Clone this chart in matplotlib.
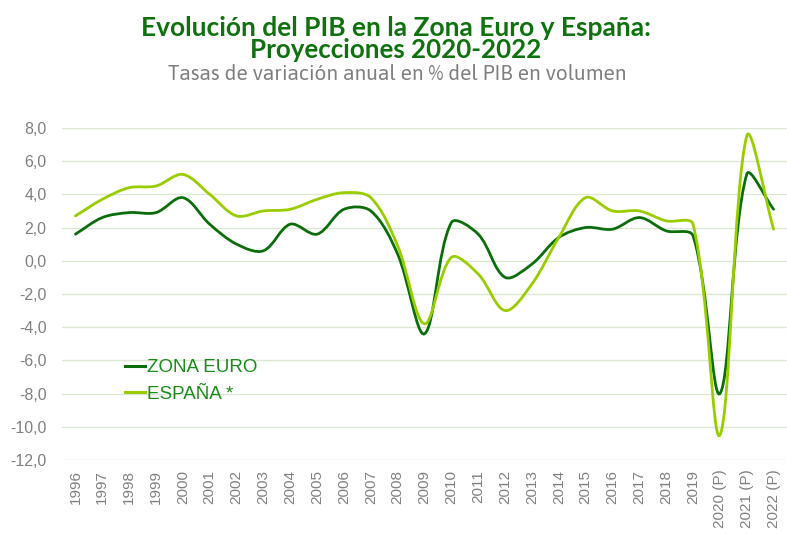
import numpy as np
import matplotlib.pyplot as plt
from matplotlib.path import Path
from matplotlib.patches import PathPatch
from matplotlib.lines import Line2D

years = [str(y) for y in range(1996, 2020)] + ['2020 (P)', '2021 (P)', '2022 (P)']
zona_euro = [1.6, 2.6, 2.9, 2.9, 3.8, 2.2, 1.0, 0.6, 2.2, 1.6, 3.1, 3.0, 0.4, -4.4,
             2.3, 1.6, -1.0, -0.2, 1.4, 2.0, 1.9, 2.6, 1.8, 1.5, -8.0, 5.2, 3.1]
espana = [2.7, 3.7, 4.4, 4.5, 5.2, 4.0, 2.7, 3.0, 3.1, 3.7, 4.1, 3.8, 0.9, -3.8,
          0.2, -0.8, -3.0, -1.4, 1.4, 3.8, 3.0, 3.0, 2.4, 2.2, -10.5, 7.5, 1.9]
yticks = np.arange(-12, 9, 2)

C_EURO = '#0b6e0b'
C_ESP = '#9acd00'
C_TEXT = '#1a8c1a'
C_TITLE = '#0f720f'
TITLE_FONT = ['Lato', 'DejaVu Sans']
SUB_FONT = ['Asap', 'Lato', 'DejaVu Sans']
BODY_FONT = ['Liberation Sans', 'DejaVu Sans']


def smooth_path(x, y, sx, sy):
    # smoothed line, bezier handles weighted by segment length (pixel space)
    pts = np.column_stack([np.asarray(x) * sx, np.asarray(y) * sy]).astype(float)
    n = len(pts)
    d = np.hypot(*np.diff(pts, axis=0).T)
    out_c, in_c = [], []
    for i in range(n):
        p0 = pts[i - 1] if i > 0 else pts[i]
        p2 = pts[i + 1] if i < n - 1 else pts[i]
        t = p2 - p0
        dl = d[i - 1] if i > 0 else 0.0
        dr = d[i] if i < n - 1 else 0.0
        s = dl + dr
        out_c.append(pts[i] + t * dr / (3 * s))
        in_c.append(pts[i] - t * dl / (3 * s))
    verts = [pts[0]]
    codes = [Path.MOVETO]
    for i in range(n - 1):
        verts += [out_c[i], in_c[i + 1], pts[i + 1]]
        codes += [Path.CURVE4] * 3
    verts = np.array(verts) / [sx, sy]
    return Path(verts, codes)


def fit_text(fig, t, width_px):
    # scale the font so the text spans the same width as in the original
    r = fig.canvas.get_renderer()
    w = t.get_window_extent(r).width
    t.set_fontsize(t.get_fontsize() * width_px / w)


plt.rcParams['font.family'] = BODY_FONT
fig = plt.figure(figsize=(7.87, 5.33), dpi=100)
ax = fig.add_axes([0.0788, 0.137, 0.9212, 0.623])

x = np.arange(len(years))
for vals, col in [(zona_euro, C_EURO), (espana, C_ESP)]:
    ax.add_patch(PathPatch(smooth_path(x, vals, 26.85, 16.6), facecolor='none', edgecolor=col,
                           lw=2.0, capstyle='round', zorder=3))

ax.set_xlim(-0.5, len(years) - 0.5)
ax.set_ylim(-12, 8)
ax.set_yticks(yticks)
ax.set_yticklabels([('%.1f' % v).replace('.', ',') for v in yticks])
ax.set_xticks(x)
ax.set_xticklabels(years, rotation=90)
ax.tick_params(axis='both', length=0, colors='#808080', labelsize=11.5)
ax.tick_params(axis='y', pad=11)
ax.tick_params(axis='x', pad=7, labelsize=11)
ax.grid(axis='y', color='#dde8d4', lw=1)
ax.set_axisbelow(True)
for s in ax.spines.values():
    s.set_visible(False)

handles = [Line2D([], [], color=C_EURO, lw=2.2), Line2D([], [], color=C_ESP, lw=2.2)]
leg = ax.legend(handles, ['ZONA EURO', 'ESPAÑA *'], loc='upper left',
                bbox_to_anchor=(0.064, 0.355), frameon=False, fontsize=13.5,
                handlelength=1.05, handletextpad=0.12, labelspacing=0.52)
for t in leg.get_texts():
    t.set_color(C_TEXT)

t1 = fig.text(0.503, 0.932, 'Evolución del PIB en la Zona Euro y España:', ha='center', va='baseline',
              fontsize=17, fontweight='bold', color=C_TITLE, family=TITLE_FONT)
t2 = fig.text(0.503, 0.891, 'Proyecciones 2020-2022', ha='center', va='baseline',
              fontsize=17, fontweight='bold', color=C_TITLE, family=TITLE_FONT)
t3 = fig.text(0.505, 0.850, 'Tasas de variación anual en % del PIB en volumen', ha='center', va='baseline',
              fontsize=13, color='#7f7f7f', family=SUB_FONT)
fit_text(fig, t1, 512)
fit_text(fig, t2, 291)
fit_text(fig, t3, 459)

plt.savefig('out.png', dpi=100)
